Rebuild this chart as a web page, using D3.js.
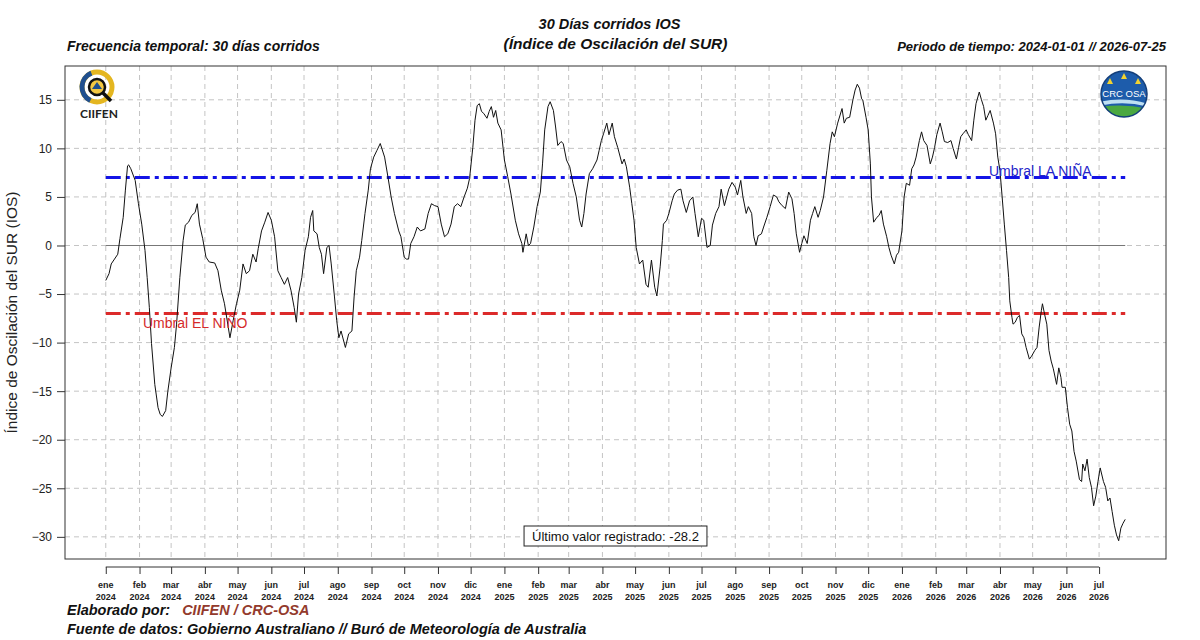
<!DOCTYPE html>
<html>
<head>
<meta charset="utf-8">
<script src="https://cdn.jsdelivr.net/npm/d3@7"></script>
<style>
  body { margin: 0; background: #fff; }
  svg { display: block; font-family: "Liberation Sans", Arial, Helvetica, sans-serif; }
</style>
</head>
<body>
<div id="chart"></div>
<script>
// series: 30-day running SOI, days counted from startDate
const startDate = "2024-01-01";
const endDate = "2026-07-25";
const dayOffsets = [
  0, 3, 5, 8, 11, 13, 16, 18, 20, 21, 23, 27, 30, 33, 36, 38, 40, 42, 45, 48, 50, 52, 55, 57, 60, 63, 65, 68, 71, 73,
  76, 79, 82, 84, 86, 89, 92, 95, 100, 103, 106, 109, 112, 114, 117, 120, 123, 126, 129, 132, 135, 138, 140, 143, 146, 149, 152, 155, 158, 161,
  164, 167, 170, 173, 175, 177, 180, 183, 186, 188, 190, 191, 194, 196, 198, 200, 203, 205, 207, 210, 212, 214, 216, 220, 223, 226, 228, 230, 233, 235,
  238, 241, 243, 246, 249, 252, 256, 259, 262, 265, 269, 271, 274, 276, 278, 280, 283, 286, 289, 293, 296, 299, 302, 305, 308, 311, 314, 317, 320, 323,
  326, 329, 332, 334, 337, 339, 341, 343, 345, 347, 350, 352, 354, 356, 358, 360, 363, 366, 369, 372, 376, 379, 382, 383, 386, 388, 390, 393, 396, 399,
  401, 403, 406, 408, 411, 413, 415, 418, 420, 423, 426, 429, 432, 435, 437, 439, 441, 444, 447, 451, 453, 455, 457, 460, 462, 465, 467, 470, 474, 476,
  478, 481, 483, 485, 487, 490, 493, 496, 498, 501, 504, 506, 509, 511, 512, 515, 517, 520, 522, 525, 528, 530, 533, 536, 539, 541, 544, 547, 549, 552,
  555, 557, 560, 563, 565, 568, 572, 575, 578, 580, 583, 585, 588, 590, 593, 595, 597, 599, 602, 604, 607, 610, 613, 616, 618, 621, 624, 627, 630, 632,
  634, 637, 639, 641, 644, 647, 649, 651, 654, 656, 659, 662, 665, 667, 669, 672, 676, 678, 680, 683, 686, 688, 690, 692, 694, 695, 698, 700, 702, 703,
  705, 708, 710, 712, 714, 717, 719, 721, 724, 726, 728, 731, 733, 735, 738, 740, 742, 744, 747, 749, 751, 754, 757, 759, 761, 763, 766, 768, 770, 773,
  776, 778, 781, 783, 785, 787, 790, 792, 795, 797, 799, 802, 804, 806, 808, 810, 812, 815, 817, 819, 821, 823, 825, 827, 829, 830, 832, 833, 835, 837,
  839, 841, 843, 845, 848, 850, 853, 855, 857, 859, 860, 862, 864, 866, 868, 870, 873, 875, 877, 878, 881, 883, 885, 887, 889, 891, 894, 896, 897, 899,
  901, 903, 905, 907, 909, 911, 913, 916, 918, 920, 922, 924, 926, 928, 930, 932, 934, 936
];
const soiValues = [
  -3.6, -2.9, -1.9, -1.4, -0.9, 0.7, 2.9, 5.7, 8.2, 8.3, 7.9, 6.7, 4.3, 2.2, -0.5, -3.3, -6.4, -10.1, -14.3, -16.7, -17.4, -17.6, -17.0, -15.0, -12.6, -10.5, -8.1, -3.3, 0.5, 2.1,
  2.4, 3.1, 3.4, 4.3, 2.2, 0.7, -1.2, -1.7, -1.8, -2.6, -4.6, -6.0, -8.1, -9.5, -7.7, -6.0, -4.6, -1.9, -2.9, -2.6, -0.9, -1.7, -0.3, 1.5, 2.4, 3.4, 2.6, 0.9, -2.6, -3.3,
  -4.0, -3.3, -4.6, -6.4, -7.9, -5.0, -3.3, -0.5, 0.9, 2.9, 3.6, 1.5, 1.2, -0.2, -0.9, -2.9, -0.2, 0.0, -1.9, -5.3, -7.7, -9.5, -8.8, -10.5, -9.1, -8.8, -5.3, -2.6, -1.2, 0.5,
  3.3, 5.7, 7.9, 9.1, 9.8, 10.5, 9.1, 7.1, 5.0, 3.3, 1.5, 0.9, -1.2, -1.4, -1.4, 0.2, 0.9, 1.9, 1.5, 1.7, 3.3, 4.3, 4.1, 4.0, 2.2, 0.9, 1.2, 2.2, 4.0, 4.3,
  4.0, 5.0, 5.9, 6.9, 10.1, 12.9, 14.4, 14.6, 13.8, 13.6, 13.1, 13.8, 14.3, 13.2, 13.9, 12.6, 11.9, 8.8, 7.1, 5.3, 2.6, 1.2, 0.2, -0.7, 1.2, 0.0, 0.2, 1.9, 4.0, 5.5,
  8.4, 11.9, 14.3, 14.8, 13.9, 12.2, 10.3, 10.7, 10.5, 8.8, 8.1, 6.4, 5.0, 2.6, 1.9, 3.3, 5.3, 7.4, 7.9, 8.8, 9.8, 10.8, 11.5, 12.6, 11.4, 12.6, 11.2, 10.1, 8.4, 8.9,
  8.1, 6.0, 4.3, 2.6, -0.2, -1.9, -1.5, -4.0, -4.3, -1.5, -4.3, -5.2, -2.2, 0.5, 2.2, 2.6, 3.3, 4.6, 5.3, 5.7, 5.8, 4.6, 3.4, 4.6, 5.0, 3.3, 0.9, 2.8, 2.6, -0.2,
  0.0, 2.1, 3.3, 4.0, 5.8, 4.1, 5.8, 6.5, 6.0, 5.2, 6.7, 5.0, 3.3, 4.0, 3.3, 0.9, 0.0, 1.0, 1.2, 1.9, 2.9, 4.0, 5.2, 5.0, 4.5, 4.1, 3.8, 5.5, 4.8, 3.3,
  1.2, -0.7, 0.2, 1.0, 0.2, 2.6, 3.3, 4.0, 2.9, 3.6, 5.0, 7.7, 10.5, 11.7, 11.2, 12.6, 14.1, 12.6, 13.1, 13.2, 15.0, 16.0, 16.6, 16.2, 15.1, 15.0, 13.2, 11.9, 8.4, 5.0,
  2.4, 2.9, 3.1, 3.6, 2.2, 0.9, -0.2, -1.0, -1.9, -1.0, -0.7, 1.5, 5.0, 6.4, 6.2, 7.9, 8.3, 9.1, 10.8, 11.7, 10.8, 10.3, 8.4, 9.1, 10.1, 11.4, 12.6, 11.7, 10.7, 10.6,
  10.8, 10.0, 8.9, 10.1, 11.2, 11.5, 11.9, 11.4, 10.8, 12.9, 14.6, 15.8, 15.0, 14.3, 12.9, 13.4, 13.9, 12.6, 11.5, 9.1, 7.7, 5.0, 2.2, -0.5, -3.3, -5.7, -7.4, -8.1, -7.9, -7.4,
  -7.2, -9.1, -9.5, -10.5, -11.7, -11.4, -10.8, -10.5, -8.4, -6.7, -6.0, -7.1, -8.1, -10.8, -11.9, -12.7, -14.3, -12.6, -13.6, -14.6, -14.6, -16.7, -18.4, -19.1, -21.2, -22.2, -24.1, -24.3, -22.5, -23.2,
  -22.0, -23.9, -24.9, -26.8, -25.8, -24.3, -22.9, -24.3, -24.9, -26.3, -26.0, -27.4, -28.8, -29.8, -30.4, -29.1, -28.6, -28.2
];
const yTicks = [-30, -25, -20, -15, -10, -5, 0, 5, 10, 15];
const monthLabels = ["ene", "feb", "mar", "abr", "may", "jun", "jul", "ago", "sep", "oct", "nov", "dic"];
const ninaThreshold = 7;
const ninoThreshold = -7;
const lastValue = -28.2;

const width = 1200, height = 640;
const margin = { top: 66, right: 34, bottom: 81, left: 65 };

const t0 = d3.utcParse("%Y-%m-%d")(startDate);
const t1 = d3.utcParse("%Y-%m-%d")(endDate);
const data = dayOffsets.map((d, i) => ({ date: d3.utcDay.offset(t0, d), value: soiValues[i] }));

// R-style 4% padding on both axes
const padT = (t1 - t0) * 0.04;
const yExt = d3.extent(soiValues);
const padY = (yExt[1] - yExt[0]) * 0.04;

const x = d3.scaleUtc()
  .domain([new Date(+t0 - padT), new Date(+t1 + padT)])
  .range([margin.left, width - margin.right]);
const y = d3.scaleLinear()
  .domain([yExt[0] - padY, yExt[1] + padY])
  .range([height - margin.bottom, margin.top]);

const svg = d3.select("#chart").append("svg")
  .attr("width", width)
  .attr("height", height);

const monthTicks = d3.utcMonth.range(t0, t1);

// grid
svg.append("g").selectAll("line")
  .data(monthTicks)
  .join("line")
  .attr("x1", d => x(d)).attr("x2", d => x(d))
  .attr("y1", margin.top).attr("y2", height - margin.bottom)
  .attr("stroke", "#c4c4c4").attr("stroke-dasharray", "5,4");
svg.append("g").selectAll("line")
  .data(yTicks)
  .join("line")
  .attr("x1", margin.left).attr("x2", width - margin.right)
  .attr("y1", d => y(d)).attr("y2", d => y(d))
  .attr("stroke", "#c4c4c4").attr("stroke-dasharray", "5,4");

// zero line and thresholds
svg.append("line")
  .attr("x1", x(t0)).attr("x2", x(t1))
  .attr("y1", y(0)).attr("y2", y(0))
  .attr("stroke", "#777").attr("stroke-width", 1.2);
svg.append("line")
  .attr("x1", x(t0)).attr("x2", x(t1))
  .attr("y1", y(ninaThreshold)).attr("y2", y(ninaThreshold))
  .attr("stroke", "#1414e6").attr("stroke-width", 3).attr("stroke-dasharray", "15,5,4,5");
svg.append("line")
  .attr("x1", x(t0)).attr("x2", x(t1))
  .attr("y1", y(ninoThreshold)).attr("y2", y(ninoThreshold))
  .attr("stroke", "#dc2a2a").attr("stroke-width", 3).attr("stroke-dasharray", "15,5,4,5");

// SOI line
svg.append("path")
  .datum(data)
  .attr("fill", "none")
  .attr("stroke", "#111")
  .attr("stroke-width", 1)
  .attr("d", d3.line().x(d => x(d.date)).y(d => y(d.value)));

// threshold labels
svg.append("text")
  .attr("x", 989).attr("y", y(ninaThreshold) - 1)
  .attr("fill", "#2424c8").attr("font-size", 14)
  .text("Umbral LA NIÑA");
svg.append("text")
  .attr("x", 143).attr("y", y(ninoThreshold) + 15)
  .attr("fill", "#d42a2a").attr("font-size", 14)
  .text("Umbral EL NIÑO");

// frame
svg.append("rect")
  .attr("x", margin.left).attr("y", margin.top)
  .attr("width", width - margin.left - margin.right)
  .attr("height", height - margin.top - margin.bottom)
  .attr("fill", "none").attr("stroke", "#333");

// y axis
const yAxis = svg.append("g")
  .attr("transform", `translate(${margin.left},0)`)
  .call(d3.axisLeft(y).tickValues(yTicks).tickSize(8).tickPadding(5));
yAxis.select(".domain").remove();
yAxis.selectAll("text").attr("font-size", 12).attr("font-family", "Liberation Sans, Arial, sans-serif").attr("fill", "#222");
yAxis.selectAll("line").attr("stroke", "#333");

svg.append("text")
  .attr("transform", `translate(17,${(margin.top + height - margin.bottom) / 2}) rotate(-90)`)
  .attr("text-anchor", "middle").attr("font-size", 15.5).attr("fill", "#222")
  .text("Índice de Oscilación del SUR (IOS)");

// x axis below the frame
const axisY = 567;
const xAxis = svg.append("g")
  .attr("transform", `translate(0,${axisY})`)
  .call(d3.axisBottom(x).tickValues(monthTicks).tickSize(7).tickFormat(""));
xAxis.select(".domain").attr("d", `M${x(monthTicks[0])},0H${x(monthTicks[monthTicks.length - 1])}`).attr("stroke", "#333");
xAxis.selectAll("line").attr("stroke", "#333");
const tickLabels = svg.append("g").attr("font-size", 9).attr("font-weight", "bold").attr("text-anchor", "middle").attr("fill", "#222");
tickLabels.selectAll("text.m")
  .data(monthTicks).join("text").attr("class", "m")
  .attr("x", d => x(d)).attr("y", axisY + 21)
  .text(d => monthLabels[d.getUTCMonth()]);
tickLabels.selectAll("text.yr")
  .data(monthTicks).join("text").attr("class", "yr")
  .attr("x", d => x(d)).attr("y", axisY + 33)
  .text(d => d.getUTCFullYear());

// last value box
const cx = (margin.left + width - margin.right) / 2;
const boxG = svg.append("g");
const boxRect = boxG.append("rect");
const boxText = boxG.append("text")
  .attr("x", cx).attr("y", 541)
  .attr("text-anchor", "middle").attr("font-size", 13).attr("fill", "#111")
  .text("Último valor registrado: " + lastValue);
const bb = boxText.node().getBBox();
boxRect
  .attr("x", bb.x - 8).attr("y", 526)
  .attr("width", bb.width + 16).attr("height", 20)
  .attr("fill", "#fff").attr("stroke", "#222");

// titles
const titleG = svg.append("g").attr("font-weight", "bold").attr("font-style", "italic").attr("fill", "#111");
titleG.append("text").attr("x", cx - 6).attr("y", 29).attr("text-anchor", "middle").attr("font-size", 14.5)
  .text("30 Días corridos IOS");
titleG.append("text").attr("x", cx).attr("y", 49).attr("text-anchor", "middle").attr("font-size", 15.5)
  .text("(Índice de Oscilación del SUR)");
titleG.append("text").attr("x", 67).attr("y", 51).attr("font-size", 14)
  .text("Frecuencia temporal: 30 días corridos");
titleG.append("text").attr("x", width - margin.right).attr("y", 51).attr("text-anchor", "end").attr("font-size", 13)
  .text("Periodo de tiempo: " + startDate + " // " + endDate);

// footer
const foot1 = titleG.append("text").attr("x", 67).attr("y", 615).attr("font-size", 14.5);
foot1.append("tspan").text("Elaborado por:");
foot1.append("tspan").attr("dx", 12).attr("fill", "#933a2c").text("CIIFEN / CRC-OSA");
titleG.append("text").attr("x", 67).attr("y", 634).attr("font-size", 14.5)
  .text("Fuente de datos: Gobierno Australiano // Buró de Meteorología de Australia");

// CIIFEN logo
const lg = svg.append("g").attr("transform", "translate(97,87)");
lg.append("circle").attr("r", 15).attr("fill", "none").attr("stroke", "#e4b620").attr("stroke-width", 5);
lg.append("path").attr("d", d3.arc()({ innerRadius: 12.5, outerRadius: 17.5, startAngle: 3.6, endAngle: 5.9 })).attr("fill", "#1f4f8f");
lg.append("circle").attr("r", 8).attr("fill", "#f3c842").attr("stroke", "#111").attr("stroke-width", 2.5);
lg.append("path").attr("d", "M-5,2 L0,-5 L5,2 Z").attr("fill", "#1f4f8f");
lg.append("line").attr("x1", 6).attr("y1", 6).attr("x2", 14).attr("y2", 14).attr("stroke", "#111").attr("stroke-width", 3.5);
svg.append("text").attr("x", 99).attr("y", 118).attr("text-anchor", "middle")
  .attr("font-size", 12).attr("font-weight", "bold").attr("font-family", "Lato, sans-serif").attr("fill", "#222")
  .text("CIIFEN");

// CRC OSA logo
const lo = svg.append("g").attr("transform", "translate(1124,94)");
lo.append("clipPath").attr("id", "osaclip").append("circle").attr("r", 23);
lo.append("circle").attr("r", 23).attr("fill", "#1d5cab");
const lc = lo.append("g").attr("clip-path", "url(#osaclip)");
lc.append("path").attr("d", "M-25,8 Q0,2 25,10 L25,13 Q0,6 -25,12 Z").attr("fill", "#bfe0f2");
lc.append("path").attr("d", "M-25,13 Q0,9 25,15 L25,30 L-25,30 Z").attr("fill", "#4aa840");
lo.append("circle").attr("r", 23).attr("fill", "none").attr("stroke", "#143f7a").attr("stroke-width", 1.5);
lo.append("text").attr("y", 3).attr("text-anchor", "middle").attr("font-size", 9.5).attr("fill", "#fff").text("CRC OSA");
[[-14, -13], [0, -18], [14, -13]].forEach(p => {
  lo.append("path").attr("d", `M${p[0] - 3},${p[1] + 3} L${p[0]},${p[1] - 3} L${p[0] + 3},${p[1] + 3} Z`).attr("fill", "#f2d230");
});
</script>
</body>
</html>
